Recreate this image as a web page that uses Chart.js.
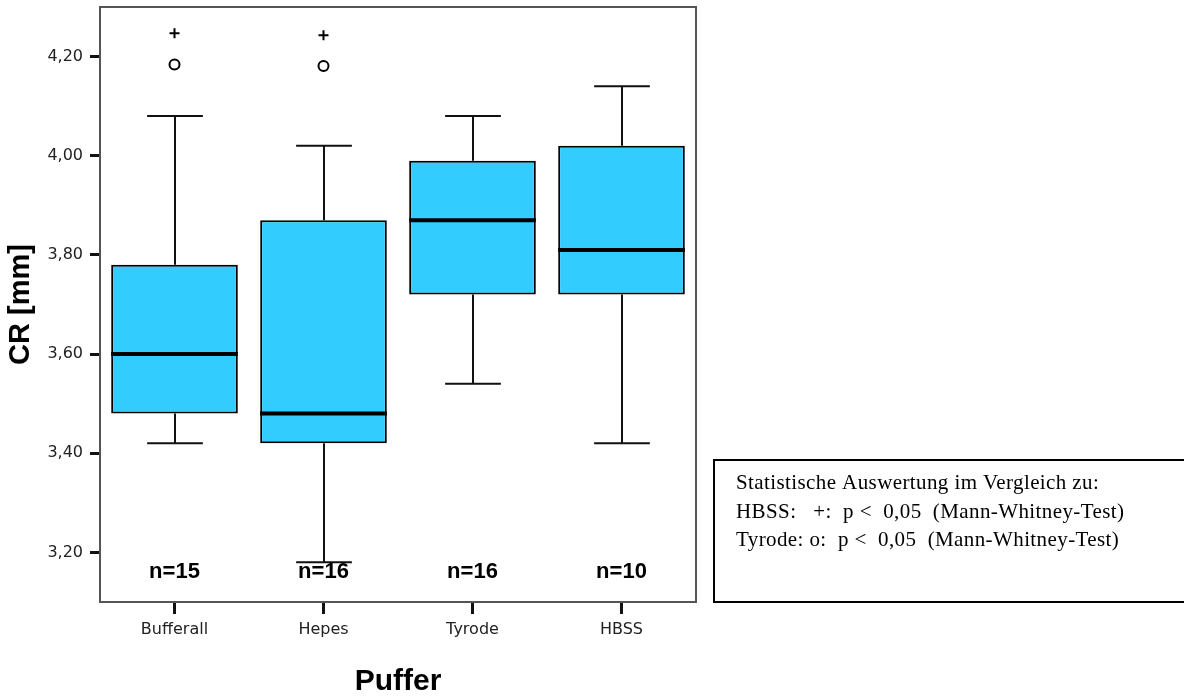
<!DOCTYPE html>
<html><head><meta charset="utf-8">
<script src="https://cdn.jsdelivr.net/npm/chart.js@4/dist/chart.umd.min.js"></script>
<style>html,body{margin:0;padding:0;background:#fff;overflow:hidden}#wrap{width:1184px;height:698px;position:relative}</style>
</head><body><div id="wrap"><canvas id="c" width="1184" height="698"></canvas></div>
<script>
const categories = ['Bufferall', 'Hepes', 'Tyrode', 'HBSS'];
const whiskerLow = [3.42, 3.18, 3.54, 3.42];
const q1 = [3.48, 3.42, 3.72, 3.72];
const median = [3.60, 3.48, 3.87, 3.81];
const q3 = [3.78, 3.87, 3.99, 4.02];
const whiskerHigh = [4.08, 4.02, 4.08, 4.14];
const plusMarks = [4.247, 4.243, null, null];
const circleMarks = [4.184, 4.181, null, null];
const nLabels = ['n=15', 'n=16', 'n=16', 'n=10'];
const yTicks = [3.20, 3.40, 3.60, 3.80, 4.00, 4.20];
const yMin = 3.10, yMax = 4.30;
const noteLines = [
  'Statistische Auswertung im Vergleich zu:',
  'HBSS:   +:  p <  0,05  (Mann-Whitney-Test)',
  'Tyrode: o:  p <  0,05  (Mann-Whitney-Test)'
];

const boxExtras = {
  id: 'boxExtras',
  beforeDatasetsDraw(chart) {
    const ctx = chart.ctx, ys = chart.scales.y;
    const meta = chart.getDatasetMeta(0);
    ctx.save();
    ctx.strokeStyle = '#111';
    ctx.lineWidth = 2;
    meta.data.forEach((bar, i) => {
      const x = Math.round(bar.x);
      const cap = bar.width * 0.44;
      const yHi = ys.getPixelForValue(whiskerHigh[i]);
      const yQ3 = ys.getPixelForValue(q3[i]);
      const yQ1 = ys.getPixelForValue(q1[i]);
      const yLo = ys.getPixelForValue(whiskerLow[i]);
      ctx.beginPath();
      ctx.moveTo(x, yHi); ctx.lineTo(x, yQ3);
      ctx.moveTo(x, yQ1); ctx.lineTo(x, yLo);
      ctx.moveTo(x - cap / 2, yHi); ctx.lineTo(x + cap / 2, yHi);
      ctx.moveTo(x - cap / 2, yLo); ctx.lineTo(x + cap / 2, yLo);
      ctx.stroke();
    });
    ctx.restore();
  },
  afterDatasetsDraw(chart) {
    const ctx = chart.ctx, ys = chart.scales.y, a = chart.chartArea;
    const meta = chart.getDatasetMeta(0);
    ctx.save();
    ctx.strokeStyle = '#000';
    ctx.lineWidth = 4;
    meta.data.forEach((bar, i) => {
      const y = ys.getPixelForValue(median[i]);
      ctx.beginPath();
      ctx.moveTo(bar.x - bar.width / 2, y);
      ctx.lineTo(bar.x + bar.width / 2, y);
      ctx.stroke();
    });
    ctx.fillStyle = '#000';
    ctx.font = 'bold 22px "Liberation Sans", Arial, sans-serif';
    ctx.textAlign = 'center';
    ctx.textBaseline = 'middle';
    meta.data.forEach((bar, i) => {
      ctx.fillText(nLabels[i], bar.x, ys.getPixelForValue(3.16));
    });
    ctx.strokeStyle = '#555';
    ctx.lineWidth = 2;
    ctx.strokeRect(a.left, a.top, a.right - a.left, a.bottom - a.top);
    ctx.restore();
  },
  afterDraw(chart) {
    const ctx = chart.ctx;
    ctx.save();
    ctx.strokeStyle = '#000';
    ctx.lineWidth = 2;
    ctx.strokeRect(714, 460, 520, 142);
    ctx.fillStyle = '#000';
    ctx.font = '21px "Liberation Serif", "Times New Roman", serif';
    try { ctx.letterSpacing = '0.4px'; } catch (e) {}
    ctx.textAlign = 'left';
    ctx.textBaseline = 'alphabetic';
    const base = [489, 517.5, 546];
    noteLines.forEach((t, i) => ctx.fillText(t, 736, base[i]));
    ctx.restore();
  }
};

new Chart(document.getElementById('c'), {
  data: {
    labels: categories,
    datasets: [
      {
        type: 'bar',
        data: categories.map((c, i) => [q1[i], q3[i]]),
        backgroundColor: '#33CCFF',
        borderColor: '#000',
        borderWidth: 2,
        borderSkipped: false,
        barPercentage: 0.85,
        categoryPercentage: 1,
        order: 2
      },
      {
        type: 'line',
        data: plusMarks,
        showLine: false,
        pointStyle: 'cross',
        pointRadius: 5,
        pointBorderColor: '#000',
        pointBorderWidth: 2,
        order: 0
      },
      {
        type: 'line',
        data: circleMarks,
        showLine: false,
        pointStyle: 'circle',
        pointRadius: 5,
        pointBackgroundColor: 'rgba(0,0,0,0)',
        pointBorderColor: '#000',
        pointBorderWidth: 2,
        order: 0
      }
    ]
  },
  options: {
    responsive: false,
    animation: false,
    devicePixelRatio: 1,
    layout: { padding: { left: 0, top: 7, right: 488, bottom: 0 } },
    plugins: { legend: { display: false }, tooltip: { enabled: false } },
    scales: {
      x: {
        type: 'category',
        offset: true,
        grid: { display: true, offset: false, drawOnChartArea: false, drawTicks: true, tickLength: 12, tickWidth: 3, tickColor: '#111' },
        border: { display: false },
        ticks: { font: { family: '"DejaVu Sans", sans-serif', size: 16 }, color: '#222', padding: 6, maxRotation: 0 },
        title: { display: true, text: 'Puffer', color: '#000', font: { family: '"Liberation Sans", Arial, sans-serif', size: 30, weight: 'bold', lineHeight: 1 }, padding: { top: 0, bottom: 1 } },
        afterFit(s) { s.height = 96; s.paddingLeft = 0; s.paddingRight = 0; }
      },
      y: {
        min: yMin,
        max: yMax,
        afterBuildTicks(s) { s.ticks = yTicks.map(v => ({ value: v })); },
        grid: { display: true, drawOnChartArea: false, drawTicks: true, tickLength: 10, tickWidth: 3, tickColor: '#111' },
        border: { display: false },
        ticks: { font: { family: '"DejaVu Sans", sans-serif', size: 16 }, color: '#222', padding: 7, callback: v => Number(v).toFixed(2).replace('.', ',') },
        title: { display: true, text: 'CR [mm]', color: '#000', font: { family: '"Liberation Sans", Arial, sans-serif', size: 29, weight: 'bold', lineHeight: 1.2 }, padding: { top: 4, bottom: 0 } },
        afterFit(s) { s.width = 100; s.paddingTop = 0; s.paddingBottom = 0; }
      }
    }
  },
  plugins: [boxExtras]
});
</script>
</body></html>
